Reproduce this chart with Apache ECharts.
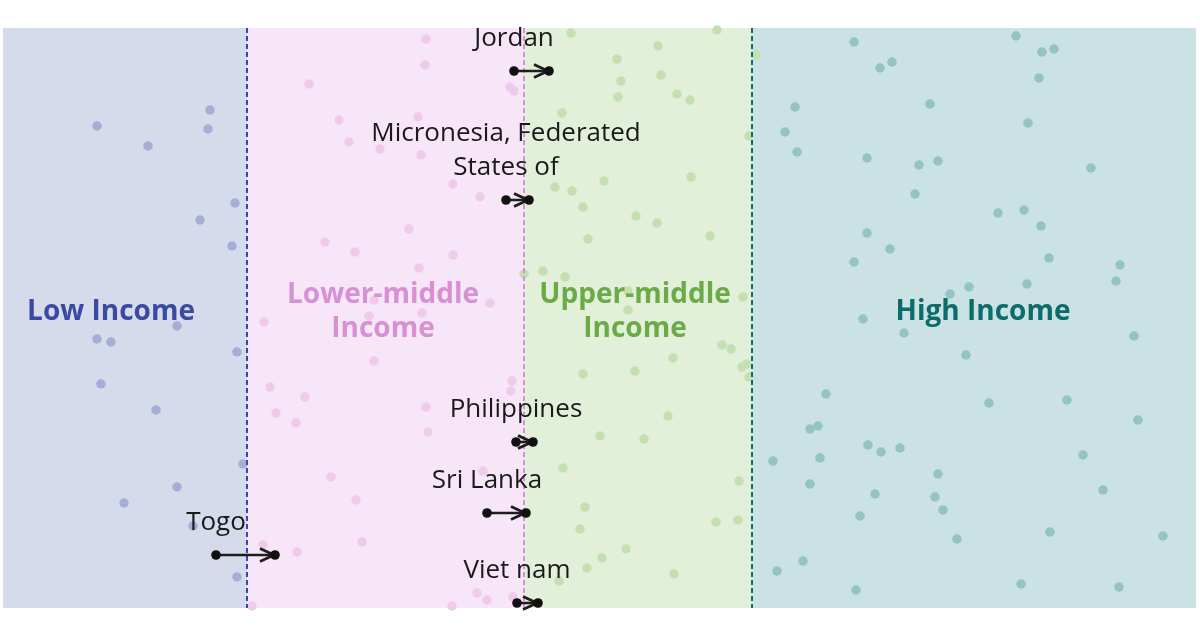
<!DOCTYPE html>
<html>
<head>
<meta charset="utf-8" />
<script src="https://cdn.jsdelivr.net/npm/echarts@6/dist/echarts.min.js"></script>
<style>
  html, body { margin: 0; padding: 0; background: #fff; }
  #main { width: 1200px; height: 630px; }
</style>
</head>
<body>
<div id="main"></div>
<script>
// position units along the income scale (x) and a jitter row (y)
const bandNames = ["Low Income", "Lower-middle\nIncome", "Upper-middle\nIncome", "High Income"];
const bandEdges = [3, 247, 524, 752, 1196];
const thresholds = [247, 524, 752];
const bandLabelX = [111, 383, 635, 983];
const bandLabelY = 312;

const lowDots = [
  [97,126],[148,146],[210,110],[208,129],[235,203],[200,220],[232,246],[177,326],[97,339],
  [111,342],[237,352],[101,384],[156,410],[243,464],[177,487],[124,503],[193,526],[237,577]
];
const lowerMidDots = [
  [309,84],[339,120],[349,142],[380,149],[325,242],[355,252],[374,300],[369,316],[264,322],
  [426,39],[425,65],[510,87],[514,91],[418,117],[421,155],[453,184],[480,197],[409,229],
  [453,255],[419,268],[490,303],[422,313],[374,361],[270,387],[305,397],[276,413],[296,423],
  [331,477],[356,500],[362,542],[297,552],[263,545],[252,606],[512,381],[511,391],[426,407],
  [428,432],[483,471],[477,593],[487,600],[452,606],[513,597]
];
const upperMidDots = [
  [571,33],[717,30],[658,46],[617,59],[621,81],[661,75],[618,97],[677,94],[690,100],[562,113],
  [749,136],[756,55],[604,181],[691,177],[555,187],[572,191],[583,207],[636,216],[657,223],
  [710,236],[588,239],[543,271],[524,274],[565,277],[628,291],[628,310],[743,297],[583,374],
  [635,371],[673,358],[722,345],[731,349],[742,367],[747,364],[749,377],[668,416],[600,436],
  [644,439],[563,468],[739,481],[585,507],[580,529],[716,522],[738,520],[626,549],[602,558],
  [587,568],[674,574],[559,581]
];
const highDots = [
  [854,42],[1016,36],[1042,52],[1054,49],[880,68],[892,62],[1039,78],[930,104],[1028,123],
  [867,158],[919,165],[938,161],[1091,168],[915,194],[998,213],[1024,210],[1041,226],[867,233],
  [890,249],[854,262],[1049,258],[1120,265],[1116,281],[1027,284],[969,287],[950,294],[863,319],
  [904,333],[966,355],[1134,336],[826,394],[989,403],[1067,400],[1138,420],[810,429],[818,426],
  [820,458],[868,445],[881,452],[900,448],[1083,455],[810,484],[938,474],[875,494],[935,497],
  [943,510],[1103,490],[860,516],[957,539],[1050,532],[1163,536],[803,561],[1021,584],[1119,587],
  [856,590],[795,107],[785,132],[797,152],[773,461],[777,571]
];

// countries that moved: [from, to, row]
const movers = ["Jordan", "Micronesia, Federated\nStates of", "Philippines", "Sri Lanka", "Viet nam", "Togo"];
const moverFrom = [514, 506, 516, 487, 517, 216];
const moverTo = [549, 529, 533, 526, 538, 275];
const moverRow = [71, 200, 442, 513, 603, 555];

const bgColors = ["#d6dbeb", "#f7e6f7", "#e2efd9", "#cae2e3"];
const dotColors = ["#a7aed6", "#eecbeb", "#c5e0b0", "#94c3c3"];
const textColors = ["#3a49a1", "#d690d3", "#6aab46", "#0c6b6b"];

const chartDom = document.getElementById("main");
const myChart = echarts.init(chartDom);

const bandLabelData = bandNames.map((n, i) => ({
  name: n,
  value: [bandLabelX[i], bandLabelY],
  label: { color: textColors[i] }
}));

const dotSeries = [lowDots, lowerMidDots, upperMidDots, highDots].map((d, i) => ({
  type: "scatter",
  data: d,
  symbolSize: 9.5,
  itemStyle: { color: dotColors[i], opacity: 1 },
  z: 3,
  silent: true
}));

const moverData = movers.map((n, i) => ({ name: n, value: [moverFrom[i], moverTo[i], moverRow[i]] }));

const option = {
  animation: false,
  grid: { left: 3, right: 4, top: 28, bottom: 22 },
  xAxis: { type: "value", min: 3, max: 1196, show: false },
  yAxis: { type: "value", min: 28, max: 608, inverse: true, show: false },
  series: [
    {
      type: "scatter",
      data: [],
      z: 1,
      silent: true,
      markArea: {
        silent: true,
        label: { show: false },
        data: bgColors.map((c, i) => [
          { xAxis: bandEdges[i], yAxis: 28, itemStyle: { color: c, opacity: 1 } },
          { xAxis: bandEdges[i + 1], yAxis: 608 }
        ])
      },
      markLine: {
        silent: true,
        symbol: ["none", "none"],
        label: { show: false },
        data: thresholds.map((t, i) => ({
          xAxis: t,
          lineStyle: { color: [textColors[0], textColors[1], textColors[3]][i], type: [5, 3], width: 2, opacity: 1 }
        }))
      }
    },
    ...dotSeries,
    {
      type: "scatter",
      data: bandLabelData,
      symbolSize: 0,
      z: 5,
      silent: true,
      itemStyle: { opacity: 1 },
      label: {
        show: true,
        position: "inside",
        formatter: "{b}",
        fontFamily: "Open Sans",
        fontWeight: "bold",
        fontSize: 28,
        lineHeight: 34,
        align: "center",
        opacity: 1
      }
    },
    {
      type: "custom",
      z: 10,
      silent: true,
      encode: { x: [0, 1], y: 2 },
      data: moverData,
      renderItem: function (params, api) {
        const a = api.coord([api.value(0), api.value(2)]);
        const b = api.coord([api.value(1), api.value(2)]);
        const name = movers[params.dataIndex];
        const ink = "#1d1d1d";
        return {
          type: "group",
          children: [
            { type: "line", shape: { x1: a[0], y1: a[1], x2: b[0] - 2, y2: b[1] }, style: { stroke: ink, lineWidth: 2.5 } },
            {
              type: "polyline",
              shape: { points: [[b[0] - 15, b[1] - 6.5], [b[0] - 1, b[1]], [b[0] - 15, b[1] + 6.5]] },
              style: { stroke: ink, lineWidth: 2.8, fill: null }
            },
            { type: "circle", shape: { cx: a[0], cy: a[1], r: 4.8 }, style: { fill: "#111" } },
            { type: "circle", shape: { cx: b[0], cy: b[1], r: 4.8 }, style: { fill: "#111" } },
            {
              type: "text",
              x: a[0],
              y: a[1] - 15,
              style: {
                text: name,
                fill: "#1a1a1a",
                font: "26px 'Open Sans'",
                lineHeight: 34,
                align: "center",
                verticalAlign: "bottom"
              }
            }
          ]
        };
      }
    }
  ]
};

option && myChart.setOption(option);
</script>
</body>
</html>
